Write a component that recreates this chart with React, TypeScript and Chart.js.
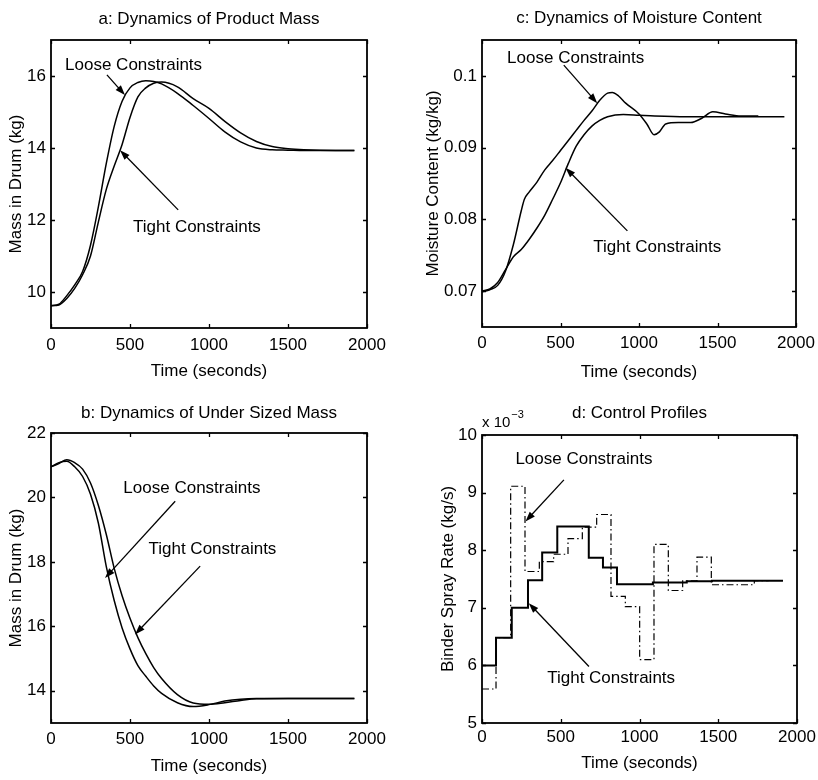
import React, { useEffect, useRef } from 'react';
import { Chart, registerables } from 'chart.js';

Chart.register(...registerables);

const FONT = '"Liberation Sans", Arial, Helvetica, sans-serif';

// ---------- shared axis ----------
const timeTicks = [0, 500, 1000, 1500, 2000];
const timeLabel = 'Time (seconds)';

// ---------- panel a: product mass ----------
const timeA = [0, 50, 100, 150, 200, 250, 300, 350, 400, 450, 500, 550, 600, 650, 700, 800, 900, 1000, 1100, 1200, 1300, 1400, 1500, 1600, 1800, 1920];
const productLoose = [9.62, 9.66, 9.9, 10.2, 10.57, 11.3, 12.37, 13.57, 14.6, 15.3, 15.67, 15.82, 15.87, 15.85, 15.78, 15.52, 15.18, 14.82, 14.45, 14.17, 14.0, 13.95, 13.94, 13.93, 13.93, 13.93];
const productTight = [9.62, 9.64, 9.82, 10.1, 10.48, 11.0, 11.95, 12.85, 13.5, 14.1, 14.85, 15.42, 15.67, 15.8, 15.83, 15.7, 15.37, 15.1, 14.74, 14.42, 14.18, 14.04, 13.98, 13.95, 13.93, 13.93];
const ticksA = [10, 12, 14, 16];

// ---------- panel b: under sized mass ----------
const timeB = [0, 50, 100, 150, 200, 250, 300, 350, 400, 450, 500, 550, 600, 650, 700, 800, 900, 1000, 1100, 1200, 1300, 1500, 1920];
const underLoose = [20.95, 21.08, 21.12, 20.95, 20.65, 20.1, 19.2, 17.85, 16.8, 15.95, 15.3, 14.78, 14.45, 14.15, 13.92, 13.63, 13.51, 13.57, 13.68, 13.74, 13.76, 13.76, 13.76];
const underTight = [20.95, 21.05, 21.17, 21.08, 20.88, 20.45, 19.75, 18.85, 17.8, 16.95, 16.25, 15.65, 15.15, 14.72, 14.38, 13.88, 13.62, 13.58, 13.63, 13.7, 13.75, 13.76, 13.76];
const ticksB = [14, 16, 18, 20, 22];

// ---------- panel c: moisture content ----------
const timeCLoose = [0, 50, 100, 150, 200, 250, 270, 300, 350, 400, 450, 500, 550, 600, 650, 700, 750, 800, 830, 870, 915, 1000, 1050, 1096, 1130, 1170, 1250, 1330, 1400, 1470, 1550, 1650, 1760];
const moistLoose = [0.0699, 0.0702, 0.0708, 0.0728, 0.0765, 0.0812, 0.0828, 0.0838, 0.0852, 0.0869, 0.0882, 0.0896, 0.091, 0.0924, 0.0938, 0.0951, 0.0966, 0.0976, 0.0977, 0.0972, 0.0962, 0.0947, 0.0933, 0.0918, 0.0922, 0.0933, 0.0935, 0.0935, 0.0941, 0.095, 0.0947, 0.0944, 0.0944];
const timeCTight = [0, 50, 100, 150, 200, 250, 300, 350, 400, 450, 500, 550, 600, 650, 700, 750, 800, 900, 1000, 1100, 1300, 1600, 1926];
const moistTight = [0.07, 0.0703, 0.0712, 0.073, 0.0748, 0.0758, 0.0772, 0.0788, 0.0806, 0.0828, 0.0851, 0.0878, 0.0902, 0.0918, 0.093, 0.0938, 0.0943, 0.0946, 0.0945, 0.0944, 0.0943, 0.0943, 0.0943];
const ticksC = [0.07, 0.08, 0.09, 0.1];

// ---------- panel d: control profiles (x 10^-3 kg/s) ----------
const stepTimesLoose = [0, 89, 182, 273, 364, 455, 546, 637, 728, 819, 910, 1001, 1092, 1183, 1274, 1365, 1456, 1729, 1820];
const sprayLoose = [5.59, 6.48, 9.11, 7.63, 7.8, 7.93, 8.2, 8.4, 8.62, 7.2, 7.02, 6.1, 8.1, 7.3, 7.47, 7.88, 7.4, 7.47, 7.47];
const stepTimesTight = [0, 89, 189, 292, 382, 478, 678, 768, 857, 1085, 1300, 1460, 1911];
const sprayTight = [6.0, 6.48, 7.0, 7.48, 7.96, 8.41, 7.87, 7.7, 7.41, 7.44, 7.46, 7.47, 7.47];
const ticksD = [5, 6, 7, 8, 9, 10];

// ---------- annotations (data coordinates) ----------
const looseText = 'Loose Constraints';
const tightText = 'Tight Constraints';
const labelsA = [{ text: looseText, x: 89, y: 16.3 }, { text: tightText, x: 519, y: 11.8 }];
const arrowsA = [{ x1: 354, y1: 16.03, x2: 468, y2: 15.47 }, { x1: 805, y1: 12.28, x2: 437, y2: 13.94 }];
const labelsB = [{ text: looseText, x: 458, y: 20.27 }, { text: tightText, x: 617, y: 18.4 }];
const arrowsB = [{ x1: 786, y1: 19.88, x2: 342, y2: 17.5 }, { x1: 944, y1: 17.87, x2: 532, y2: 15.75 }];
const labelsC = [{ text: looseText, x: 160, y: 0.1025 }, { text: tightText, x: 709, y: 0.0761 }];
const arrowsC = [{ x1: 521, y1: 0.1015, x2: 734, y2: 0.0962 }, { x1: 926, y1: 0.0784, x2: 532, y2: 0.0872 }];
const labelsD = [{ text: looseText, x: 212, y: 9.57 }, { text: tightText, x: 414, y: 5.78 }];
const arrowsD = [{ x1: 520, y1: 9.22, x2: 276, y2: 8.5 }, { x1: 679, y1: 5.98, x2: 297, y2: 7.08 }];

type Lbl = { text: string; x: number; y: number };
type Arr = { x1: number; y1: number; x2: number; y2: number };

function makeDecor(labels: Lbl[], arrows: Arr[], exponent: boolean) {
  return {
    id: 'matlabDecor',
    afterDatasetsDraw(chart: any) {
      const { ctx, chartArea: ca, scales } = chart;
      const xs = scales.x;
      const ys = scales.y;
      ctx.save();
      ctx.strokeStyle = '#000';
      ctx.fillStyle = '#000';
      // inward ticks on all four sides
      ctx.lineWidth = 1.3;
      ctx.beginPath();
      const tl = 4;
      xs.ticks.forEach((t: any) => {
        const px = Math.round(xs.getPixelForValue(t.value)) + 0.5;
        ctx.moveTo(px, ca.bottom);
        ctx.lineTo(px, ca.bottom - tl);
        ctx.moveTo(px, ca.top);
        ctx.lineTo(px, ca.top + tl);
      });
      ys.ticks.forEach((t: any) => {
        const py = Math.round(ys.getPixelForValue(t.value)) + 0.5;
        ctx.moveTo(ca.left, py);
        ctx.lineTo(ca.left + tl, py);
        ctx.moveTo(ca.right, py);
        ctx.lineTo(ca.right - tl, py);
      });
      ctx.stroke();
      // box
      ctx.lineWidth = 1.8;
      ctx.strokeRect(ca.left, ca.top, ca.right - ca.left, ca.bottom - ca.top);
      // labels
      ctx.font = `17px ${FONT}`;
      ctx.textAlign = 'left';
      ctx.textBaseline = 'middle';
      labels.forEach((l) => {
        ctx.fillText(l.text, xs.getPixelForValue(l.x), ys.getPixelForValue(l.y));
      });
      // arrows
      ctx.lineWidth = 1.3;
      arrows.forEach((a) => {
        const x1 = xs.getPixelForValue(a.x1);
        const y1 = ys.getPixelForValue(a.y1);
        const x2 = xs.getPixelForValue(a.x2);
        const y2 = ys.getPixelForValue(a.y2);
        const ang = Math.atan2(y2 - y1, x2 - x1);
        const L = 10;
        const W = 3.5;
        const c = Math.cos(ang);
        const s = Math.sin(ang);
        ctx.beginPath();
        ctx.moveTo(x1, y1);
        ctx.lineTo(x2 - c * L * 0.6, y2 - s * L * 0.6);
        ctx.stroke();
        ctx.beginPath();
        ctx.moveTo(x2, y2);
        ctx.lineTo(x2 - L * c + W * s, y2 - L * s - W * c);
        ctx.lineTo(x2 - L * c - W * s, y2 - L * s + W * c);
        ctx.closePath();
        ctx.fill();
      });
      if (exponent) {
        ctx.textBaseline = 'alphabetic';
        ctx.font = `15px ${FONT}`;
        ctx.fillText('x 10', ca.left, ca.top - 8);
        const w = ctx.measureText('x 10').width;
        ctx.font = `11px ${FONT}`;
        ctx.fillText('\u22123', ca.left + w + 1, ca.top - 17);
      }
      ctx.restore();
    },
  };
}

type PanelCfg = {
  left: number;
  top: number;
  title: string;
  titlePad: { top: number; bottom: number };
  yLabel: string;
  yTitlePad: number;
  yWidth: number;
  xHeight: number;
  xTickPad: number;
  xTitlePad: number;
  rightPad: number;
  yMin: number;
  yMax: number;
  yTicks: number[];
  datasets: any[];
  labels: Lbl[];
  arrows: Arr[];
  exponent?: boolean;
};

const W = 409;
const H = 390;

function toPoints(xs: number[], ys: number[]) {
  return xs.map((x, i) => ({ x, y: ys[i] }));
}

function Panel({ cfg }: { cfg: PanelCfg }) {
  const ref = useRef<HTMLCanvasElement | null>(null);
  useEffect(() => {
    if (!ref.current) return;
    const font = { family: FONT, size: 17 };
    const chart = new Chart(ref.current, {
      type: 'line',
      data: { datasets: cfg.datasets },
      options: {
        responsive: false,
        maintainAspectRatio: false,
        animation: false,
        layout: { padding: { left: 0, top: 0, bottom: 0, right: cfg.rightPad } },
        elements: { point: { radius: 0 } },
        plugins: {
          legend: { display: false },
          tooltip: { enabled: false },
          title: {
            display: true,
            text: cfg.title,
            color: '#000',
            font: { ...font, weight: 'normal' },
            padding: cfg.titlePad,
            fullSize: false,
          },
        },
        scales: {
          x: {
            type: 'linear',
            min: 0,
            max: 2000,
            afterBuildTicks: (s: any) => {
              s.ticks = timeTicks.map((v) => ({ value: v }));
            },
            afterFit: (s: any) => {
              s.height = cfg.xHeight;
              s.paddingLeft = 0;
              s.paddingRight = 0;
            },
            grid: { display: false, drawTicks: false },
            border: { display: false },
            ticks: {
              color: '#000',
              font,
              padding: cfg.xTickPad,
              maxRotation: 0,
              autoSkip: false,
              callback: (v: any) => String(v),
            },
            title: {
              display: true,
              text: timeLabel,
              color: '#000',
              font,
              padding: { top: 0, bottom: cfg.xTitlePad },
            },
          },
          y: {
            type: 'linear',
            min: cfg.yMin,
            max: cfg.yMax,
            afterBuildTicks: (s: any) => {
              s.ticks = cfg.yTicks.map((v) => ({ value: v }));
            },
            afterFit: (s: any) => {
              s.width = cfg.yWidth;
              s.paddingTop = 0;
              s.paddingBottom = 0;
            },
            grid: { display: false, drawTicks: false },
            border: { display: false },
            ticks: {
              color: '#000',
              font,
              padding: 5,
              autoSkip: false,
              callback: (v: any) => String(v),
            },
            title: {
              display: true,
              text: cfg.yLabel,
              color: '#000',
              font,
              padding: { top: cfg.yTitlePad, bottom: 0 },
            },
          },
        },
      } as any,
      plugins: [makeDecor(cfg.labels, cfg.arrows, !!cfg.exponent)],
    });
    return () => chart.destroy();
  }, [cfg]);
  return (
    <canvas
      ref={ref}
      width={W}
      height={H}
      style={{ position: 'absolute', left: cfg.left, top: cfg.top, width: W, height: H }}
    />
  );
}

const smooth = (data: any[]) => ({
  data,
  borderColor: '#000',
  borderWidth: 1.5,
  cubicInterpolationMode: 'monotone',
  pointRadius: 0,
  fill: false,
});

const panels: PanelCfg[] = [
  {
    left: 0,
    top: 0,
    title: 'a: Dynamics of Product Mass',
    titlePad: { top: 9, bottom: 10.6 },
    yLabel: 'Mass in Drum (kg)',
    yTitlePad: 6.5,
    yWidth: 51,
    xHeight: 62,
    xTickPad: 7.5,
    xTitlePad: 8.5,
    rightPad: 42,
    yMin: 9,
    yMax: 17,
    yTicks: ticksA,
    datasets: [smooth(toPoints(timeA, productLoose)), smooth(toPoints(timeA, productTight))],
    labels: labelsA,
    arrows: arrowsA,
  },
  {
    left: 409,
    top: 0,
    title: 'c: Dynamics of Moisture Content',
    titlePad: { top: 8, bottom: 11.6 },
    yLabel: 'Moisture Content (kg/kg)',
    yTitlePad: 13.8,
    yWidth: 73,
    xHeight: 63,
    xTickPad: 6,
    xTitlePad: 7.3,
    rightPad: 22,
    yMin: 0.065,
    yMax: 0.105,
    yTicks: ticksC,
    datasets: [smooth(toPoints(timeCLoose, moistLoose)), smooth(toPoints(timeCTight, moistTight))],
    labels: labelsC,
    arrows: arrowsC,
  },
  {
    left: 0,
    top: 390,
    title: 'b: Dynamics of Under Sized Mass',
    titlePad: { top: 12.8, bottom: 9.8 },
    yLabel: 'Mass in Drum (kg)',
    yTitlePad: 6.5,
    yWidth: 51,
    xHeight: 57,
    xTickPad: 6,
    xTitlePad: 3,
    rightPad: 42,
    yMin: 13,
    yMax: 22,
    yTicks: ticksB,
    datasets: [smooth(toPoints(timeB, underLoose)), smooth(toPoints(timeB, underTight))],
    labels: labelsB,
    arrows: arrowsB,
  },
  {
    left: 409,
    top: 390,
    title: 'd: Control Profiles',
    titlePad: { top: 12.8, bottom: 11.8 },
    yLabel: 'Binder Spray Rate (kg/s)',
    yTitlePad: 28.8,
    yWidth: 73,
    xHeight: 57,
    xTickPad: 4,
    xTitlePad: 6.8,
    rightPad: 21,
    yMin: 5,
    yMax: 10,
    yTicks: ticksD,
    datasets: [
      {
        data: toPoints(stepTimesLoose, sprayLoose),
        borderColor: '#000',
        borderWidth: 1.2,
        borderDash: [7, 3, 1.5, 3],
        stepped: 'before',
        pointRadius: 0,
        fill: false,
      },
      {
        data: toPoints(stepTimesTight, sprayTight),
        borderColor: '#000',
        borderWidth: 2,
        stepped: 'before',
        pointRadius: 0,
        fill: false,
      },
    ],
    labels: labelsD,
    arrows: arrowsD,
    exponent: true,
  },
];

export default function App() {
  return (
    <div
      style={{
        position: 'absolute',
        left: 0,
        top: 0,
        width: 818,
        height: 780,
        background: '#fff',
        overflow: 'hidden',
      }}
    >
      {panels.map((p, i) => (
        <Panel key={i} cfg={p} />
      ))}
    </div>
  );
}
